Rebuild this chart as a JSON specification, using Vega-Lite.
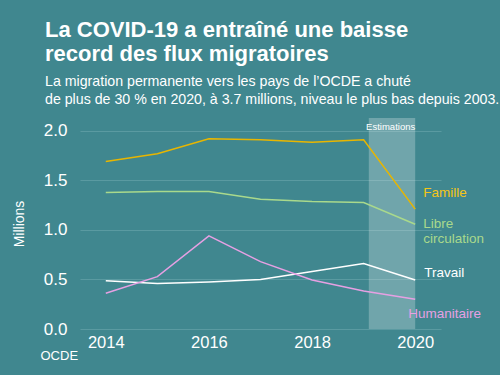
{
  "$schema": "https://vega.github.io/schema/vega-lite/v6.json",
  "width": 361,
  "height": 211,
  "autosize": {"type": "none"},
  "padding": {"left": 80, "top": 118, "right": 59, "bottom": 46},
  "background": "#40878f",
  "config": {
    "view": {"stroke": null},
    "font": "Liberation Sans",
    "axis": {"labelFont": "Liberation Sans", "titleFont": "Liberation Sans"}
  },
  "title": {
    "text": ["La COVID-19 a entraîné une baisse", "record des flux migratoires"],
    "subtitle": ["La migration permanente vers les pays de l’OCDE a chuté", "de plus de 30 % en 2020, à 3.7 millions, niveau le plus bas depuis 2003."],
    "anchor": "start",
    "frame": "group",
    "dx": -35,
    "offset": 10,
    "font": "Liberation Sans",
    "fontSize": 22,
    "fontWeight": "bold",
    "lineHeight": 24,
    "color": "#ffffff",
    "subtitleFont": "Liberation Sans",
    "subtitleFontSize": 14.2,
    "subtitleLineHeight": 18,
    "subtitleColor": "#ffffff",
    "subtitlePadding": 9
  },
  "datasets": {
    "series": [
      {"year": 2014, "cat": "Famille", "value": 1.69},
      {"year": 2015, "cat": "Famille", "value": 1.77},
      {"year": 2016, "cat": "Famille", "value": 1.92},
      {"year": 2017, "cat": "Famille", "value": 1.91},
      {"year": 2018, "cat": "Famille", "value": 1.885},
      {"year": 2019, "cat": "Famille", "value": 1.91},
      {"year": 2020, "cat": "Famille", "value": 1.21},
      {"year": 2014, "cat": "Libre circulation", "value": 1.377},
      {"year": 2015, "cat": "Libre circulation", "value": 1.387},
      {"year": 2016, "cat": "Libre circulation", "value": 1.387},
      {"year": 2017, "cat": "Libre circulation", "value": 1.31},
      {"year": 2018, "cat": "Libre circulation", "value": 1.286},
      {"year": 2019, "cat": "Libre circulation", "value": 1.276},
      {"year": 2020, "cat": "Libre circulation", "value": 1.058},
      {"year": 2014, "cat": "Travail", "value": 0.488},
      {"year": 2015, "cat": "Travail", "value": 0.46},
      {"year": 2016, "cat": "Travail", "value": 0.475},
      {"year": 2017, "cat": "Travail", "value": 0.5},
      {"year": 2018, "cat": "Travail", "value": 0.58},
      {"year": 2019, "cat": "Travail", "value": 0.66},
      {"year": 2020, "cat": "Travail", "value": 0.495},
      {"year": 2014, "cat": "Humanitaire", "value": 0.36},
      {"year": 2015, "cat": "Humanitaire", "value": 0.528},
      {"year": 2016, "cat": "Humanitaire", "value": 0.94},
      {"year": 2017, "cat": "Humanitaire", "value": 0.68},
      {"year": 2018, "cat": "Humanitaire", "value": 0.495},
      {"year": 2019, "cat": "Humanitaire", "value": 0.384},
      {"year": 2020, "cat": "Humanitaire", "value": 0.30}
    ],
    "band": [{"start": 2019.1, "end": 2020, "label": "Estimations"}]
  },
  "layer": [
    {
      "data": {"name": "band"},
      "mark": {"type": "rect", "color": "#ffffff", "opacity": 0.25},
      "encoding": {
        "x": {"field": "start", "type": "quantitative", "scale": {"domain": [2013.5, 2020.5], "nice": false, "zero": false},
          "axis": {"values": [2014, 2016, 2018, 2020], "format": "d", "grid": false, "domain": false, "ticks": false,
            "labelColor": "#ffffff", "labelFontSize": 16.5, "labelPadding": 5,
            "title": "OCDE", "titleColor": "#ffffff", "titleFontSize": 13, "titleFontWeight": "normal",
            "titleAnchor": "start", "titleAlign": "left", "titleBaseline": "middle", "titleX": -40, "titleY": 26}},
        "x2": {"field": "end"}
      }
    },
    {
      "data": {"name": "band"},
      "mark": {"type": "text", "color": "#ffffff", "fontSize": 9.5, "align": "right", "baseline": "top", "dy": 4, "dx": 0},
      "encoding": {
        "x": {"field": "end", "type": "quantitative"},
        "y": {"datum": 2.13, "type": "quantitative"},
        "text": {"field": "label"}
      }
    },
    {
      "data": {"name": "series"},
      "mark": {"type": "line", "strokeWidth": 1.5},
      "encoding": {
        "x": {"field": "year", "type": "quantitative"},
        "y": {"field": "value", "type": "quantitative", "scale": {"domain": [0, 2.13], "nice": false},
          "axis": {"values": [0, 0.5, 1, 1.5, 2], "format": ".1f", "grid": true, "gridColor": "#5a9aa1", "gridWidth": 1,
            "domain": false, "ticks": false, "labelColor": "#ffffff", "labelFontSize": 17, "labelPadding": 13,
            "title": "Millions", "titleColor": "#ffffff", "titleFontSize": 14, "titleFontWeight": "normal", "titlePadding": 17}},
        "color": {"field": "cat", "type": "nominal",
          "scale": {"domain": ["Famille", "Libre circulation", "Travail", "Humanitaire"], "range": ["#e8b600", "#a9d98c", "#ffffff", "#e6a0e3"]},
          "legend": null}
      }
    },
    {
      "data": {"name": "series"},
      "transform": [{"filter": "datum.year === 2020 && datum.cat === 'Famille'"}],
      "mark": {"type": "text", "align": "left", "baseline": "middle", "dx": 8, "dy": -16, "fontSize": 13.5, "color": "#f5c518"},
      "encoding": {"x": {"field": "year", "type": "quantitative"}, "y": {"field": "value", "type": "quantitative"}, "text": {"field": "cat"}}
    },
    {
      "data": {"name": "series"},
      "transform": [{"filter": "datum.year === 2020 && datum.cat === 'Libre circulation'"}],
      "mark": {"type": "text", "align": "left", "baseline": "middle", "dx": 8, "dy": 0, "fontSize": 13.5, "lineHeight": 15, "color": "#a9d98c", "text": ["Libre", "circulation"]},
      "encoding": {"x": {"field": "year", "type": "quantitative"}, "y": {"field": "value", "type": "quantitative"}}
    },
    {
      "data": {"name": "series"},
      "transform": [{"filter": "datum.year === 2020 && datum.cat === 'Travail'"}],
      "mark": {"type": "text", "align": "left", "baseline": "middle", "dx": 9, "dy": -7, "fontSize": 13.5, "color": "#ffffff"},
      "encoding": {"x": {"field": "year", "type": "quantitative"}, "y": {"field": "value", "type": "quantitative"}, "text": {"field": "cat"}}
    },
    {
      "data": {"name": "series"},
      "transform": [{"filter": "datum.year === 2020 && datum.cat === 'Humanitaire'"}],
      "mark": {"type": "text", "align": "left", "baseline": "middle", "dx": -7, "dy": 15, "fontSize": 13.5, "color": "#e6a0e3"},
      "encoding": {"x": {"field": "year", "type": "quantitative"}, "y": {"field": "value", "type": "quantitative"}, "text": {"field": "cat"}}
    }
  ]
}
